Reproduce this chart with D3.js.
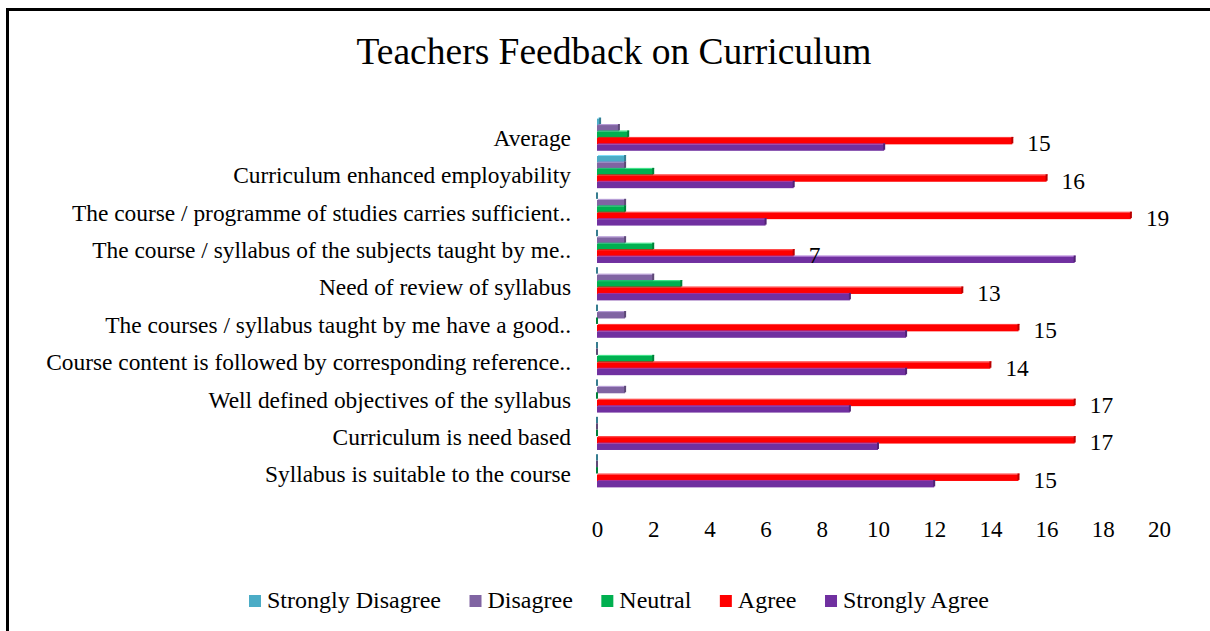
<!DOCTYPE html>
<html><head><meta charset="utf-8">
<script src="https://cdn.jsdelivr.net/npm/d3@7"></script>
<style>body{margin:0;background:#fff}svg{display:block}text{font-family:"Liberation Serif","Times New Roman",serif;fill:#000}</style>
</head><body><svg id="c" width="1210" height="631"></svg>
<script>
const categories = [
  "Average",
  "Curriculum enhanced employability",
  "The course / programme of studies carries sufficient..",
  "The course / syllabus of the subjects taught by me..",
  "Need of review of syllabus",
  "The courses / syllabus taught by me have a good..",
  "Course content is followed by corresponding reference..",
  "Well defined objectives of the syllabus",
  "Curriculum is need based",
  "Syllabus is suitable to the course"
];
const seriesNames = ["Strongly Disagree","Disagree","Neutral","Agree","Strongly Agree"];
const stronglyDisagree = [0.11, 1, 0, 0, 0, 0, 0, 0, 0, 0];
const disagree        = [0.78, 1, 1, 1, 2, 1, 0, 1, 0, 0];
const neutral         = [1.11, 2, 1, 2, 3, 0, 2, 0, 0, 0];
const agree           = [14.78, 16, 19, 7, 13, 15, 14, 17, 17, 15];
const stronglyAgree   = [10.22, 7, 6, 17, 9, 11, 11, 9, 10, 12];
const xTicks = [0,2,4,6,8,10,12,14,16,18,20];
const colors = ["#4bacc6","#8064a2","#00b050","#ff0000","#7030a0"];

const seriesValues = [stronglyDisagree, disagree, neutral, agree, stronglyAgree];
const svg = d3.select("#c");

// frame
svg.append("rect").attr("x",7.5).attr("y",9.5).attr("width",1400).attr("height",800)
  .attr("fill","none").attr("stroke","#000").attr("stroke-width",3);

svg.append("text").attr("x",614).attr("y",64).attr("text-anchor","middle")
  .style("font-size","37.5px").text("Teachers Feedback on Curriculum");

const x = d3.scaleLinear().domain([0,20]).range([597,1159]);
const y = d3.scaleBand().domain(categories).range([116,490]).paddingInner(0.14).paddingOuter(0.07);
const yi = d3.scaleBand().domain(seriesNames).range([0,y.bandwidth()]);

const groups = svg.append("g").selectAll("g").data(categories).join("g")
  .attr("transform", d => `translate(0,${y(d)})`);

seriesNames.forEach((s, si) => {
  const col = d3.color(colors[si]);
  const dark = col.darker(0.9).formatHex();
  const light = col.brighter(0.6).formatHex();
  groups.each(function(cat, ci){
    const v = seriesValues[si][ci];
    const g = d3.select(this);
    const y0 = yi(s), h = yi.bandwidth();
    const w = x(v) - x(0);
    g.append("rect").attr("x", x(0)).attr("y", y0).attr("width", w).attr("height", h).attr("fill", colors[si]);
    g.append("rect").attr("x", x(0)+1).attr("y", y0-1).attr("width", Math.max(0,w)).attr("height", 1).attr("fill", light).attr("opacity",0.8);
    g.append("rect").attr("x", x(v)-1).attr("y", y0-1).attr("width", 2).attr("height", h).attr("fill", dark);
  });
});

// category labels
svg.append("g").selectAll("text").data(categories).join("text")
  .attr("x", 571).attr("y", d => y(d) + y.bandwidth()/2 + 11)
  .attr("text-anchor","end").style("font-size","23.4px").text(d => d);

// value labels for Agree
svg.append("g").selectAll("text").data(categories).join("text")
  .attr("x", (d,i) => x(agree[i]) + 15)
  .attr("y", d => y(d) + yi("Agree") + yi.bandwidth()/2 + 10)
  .style("font-size","23.4px").text((d,i) => d3.format(".0f")(agree[i]));

// x axis
const ax = d3.axisBottom(x).tickValues(xTicks).tickSize(0).tickPadding(0).tickFormat(d3.format("d"));
const axg = svg.append("g").attr("transform","translate(0,521)").call(ax);
axg.select(".domain").remove();
axg.selectAll("text").style("font-size","23px").style("font-family","'Liberation Serif','Times New Roman',serif").attr("fill","#000").attr("dy","0.71em");

// legend
const leg = svg.append("g");
const legendItems = [];
seriesNames.forEach((s,i) => {
  const it = leg.append("g");
  it.append("rect").attr("x",0).attr("y",-13).attr("width",12).attr("height",12).attr("fill",colors[i]);
  const t = it.append("text").attr("x",18).attr("y",0).style("font-size","24px").text(s);
  legendItems.push({g: it, w: 18 + t.node().getComputedTextLength()});
});
const totalW = d3.sum(legendItems, d => d.w);
const gap = (989 - 249 - totalW) / (legendItems.length - 1);
let lx = 249;
legendItems.forEach(d => { d.g.attr("transform",`translate(${lx},608)`); lx += d.w + gap; });
</script></body></html>
